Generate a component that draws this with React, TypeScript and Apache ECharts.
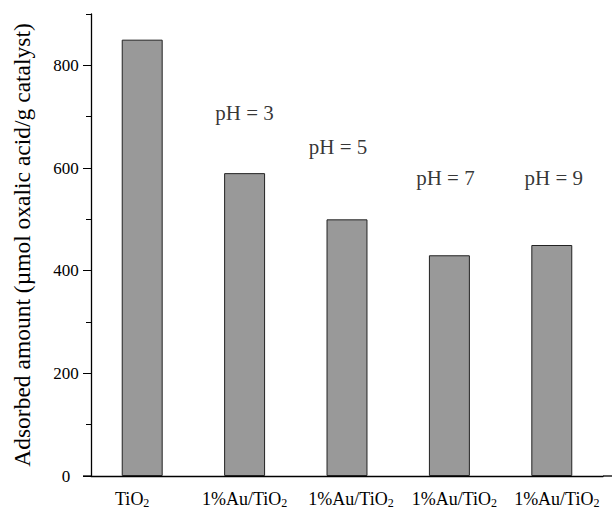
import React, { useEffect, useRef } from "react";
import * as echarts from "echarts";

const categories = ["TiO2", "1%Au/TiO2", "1%Au/TiO2", "1%Au/TiO2", "1%Au/TiO2"];
const categoryLabelShift = [-20, 0, 8, 10, 10];
const values = [850, 590, 500, 430, 450];
const phLabels = ["pH = 3", "pH = 5", "pH = 7", "pH = 9"];
const phCategoryIndex = [1, 2, 3, 4];
const phLabelValues = [707, 641, 580, 580];
const phLabelOffsets = [0, -9, -4, 2];
const yLabelTicks = [0, 200, 400, 600, 800];
const yAxisName = "Adsorbed amount (\u00b5mol oxalic acid/g catalyst)";

const FONT = "'Liberation Serif', 'Times New Roman', serif";

export default function App() {
  const ref = useRef<HTMLDivElement>(null);
  useEffect(() => {
    if (!ref.current) return;
    const chart = echarts.init(ref.current, null, { renderer: "svg" });
    chart.setOption({
      animation: false,
      backgroundColor: "#ffffff",
      grid: { left: 91, right: 9, top: 14, bottom: 33, containLabel: false },
      xAxis: {
        type: "category",
        data: categories.map((c, i) => {
          const s = categoryLabelShift[i];
          return {
            value: c,
            textStyle: { padding: s < 0 ? [0, -s, 0, 0] : [0, 0, 0, s] },
          };
        }),
        axisLine: { lineStyle: { color: "#000", width: 1.3 } },
        axisTick: { show: false },
        axisLabel: {
          margin: 12,
          interval: 0,
          formatter: (v: string) => {
            const base = v.slice(0, v.length - 1);
            return `{a|${base}}{s|2}`;
          },
          rich: {
            a: { fontFamily: FONT, fontSize: 18, color: "#000" },
            s: { fontFamily: FONT, fontSize: 12, color: "#000", padding: [9, 0, 0, 0] },
          },
        },
      },
      yAxis: [
        {
          type: "value",
          min: 0,
          max: 900,
          interval: 100,
          name: yAxisName,
          nameLocation: "middle",
          nameGap: 57,
          nameTextStyle: { fontFamily: FONT, fontSize: 23.5, color: "#000" },
          axisLine: { show: true, lineStyle: { color: "#000", width: 1.3 } },
          axisTick: { show: true, length: 5, lineStyle: { color: "#000" } },
          axisLabel: {
            customValues: yLabelTicks,
            margin: 25,
            align: "center",
            fontFamily: FONT,
            fontSize: 17,
            color: "#000",
          },
          splitLine: { show: false },
        },
        {
          type: "value",
          min: 0,
          max: 900,
          interval: 100,
          position: "left",
          axisLine: { show: false },
          axisTick: { show: true, length: 8, customValues: yLabelTicks, lineStyle: { color: "#000" } },
          axisLabel: { show: false },
          splitLine: { show: false },
        },
      ],
      graphic: [
        { type: "line", shape: { x1: 83, y1: 476, x2: 91, y2: 476 }, style: { stroke: "#000", lineWidth: 1.3 } },
        { type: "line", shape: { x1: 603, y1: 476, x2: 612, y2: 476 }, style: { stroke: "#000", lineWidth: 1.3 } },
      ],
      series: [
        {
          type: "bar",
          data: values,
          barWidth: "40%",
          itemStyle: { color: "#999999", borderColor: "#222", borderWidth: 1 },
        },
        {
          type: "scatter",
          symbolSize: 0,
          data: phLabelValues.map((v, i) => ({
            value: [phCategoryIndex[i], v],
            label: { offset: [phLabelOffsets[i], 0] },
          })),
          label: {
            show: true,
            position: "inside",
            formatter: (p: any) => phLabels[p.dataIndex],
            fontFamily: FONT,
            fontSize: 21,
            color: "#000",
          },
          silent: true,
        },
      ],
    });
    return () => chart.dispose();
  }, []);
  return <div ref={ref} style={{ width: 612, height: 509, position: "absolute", left: 0, top: 0 }} />;
}
